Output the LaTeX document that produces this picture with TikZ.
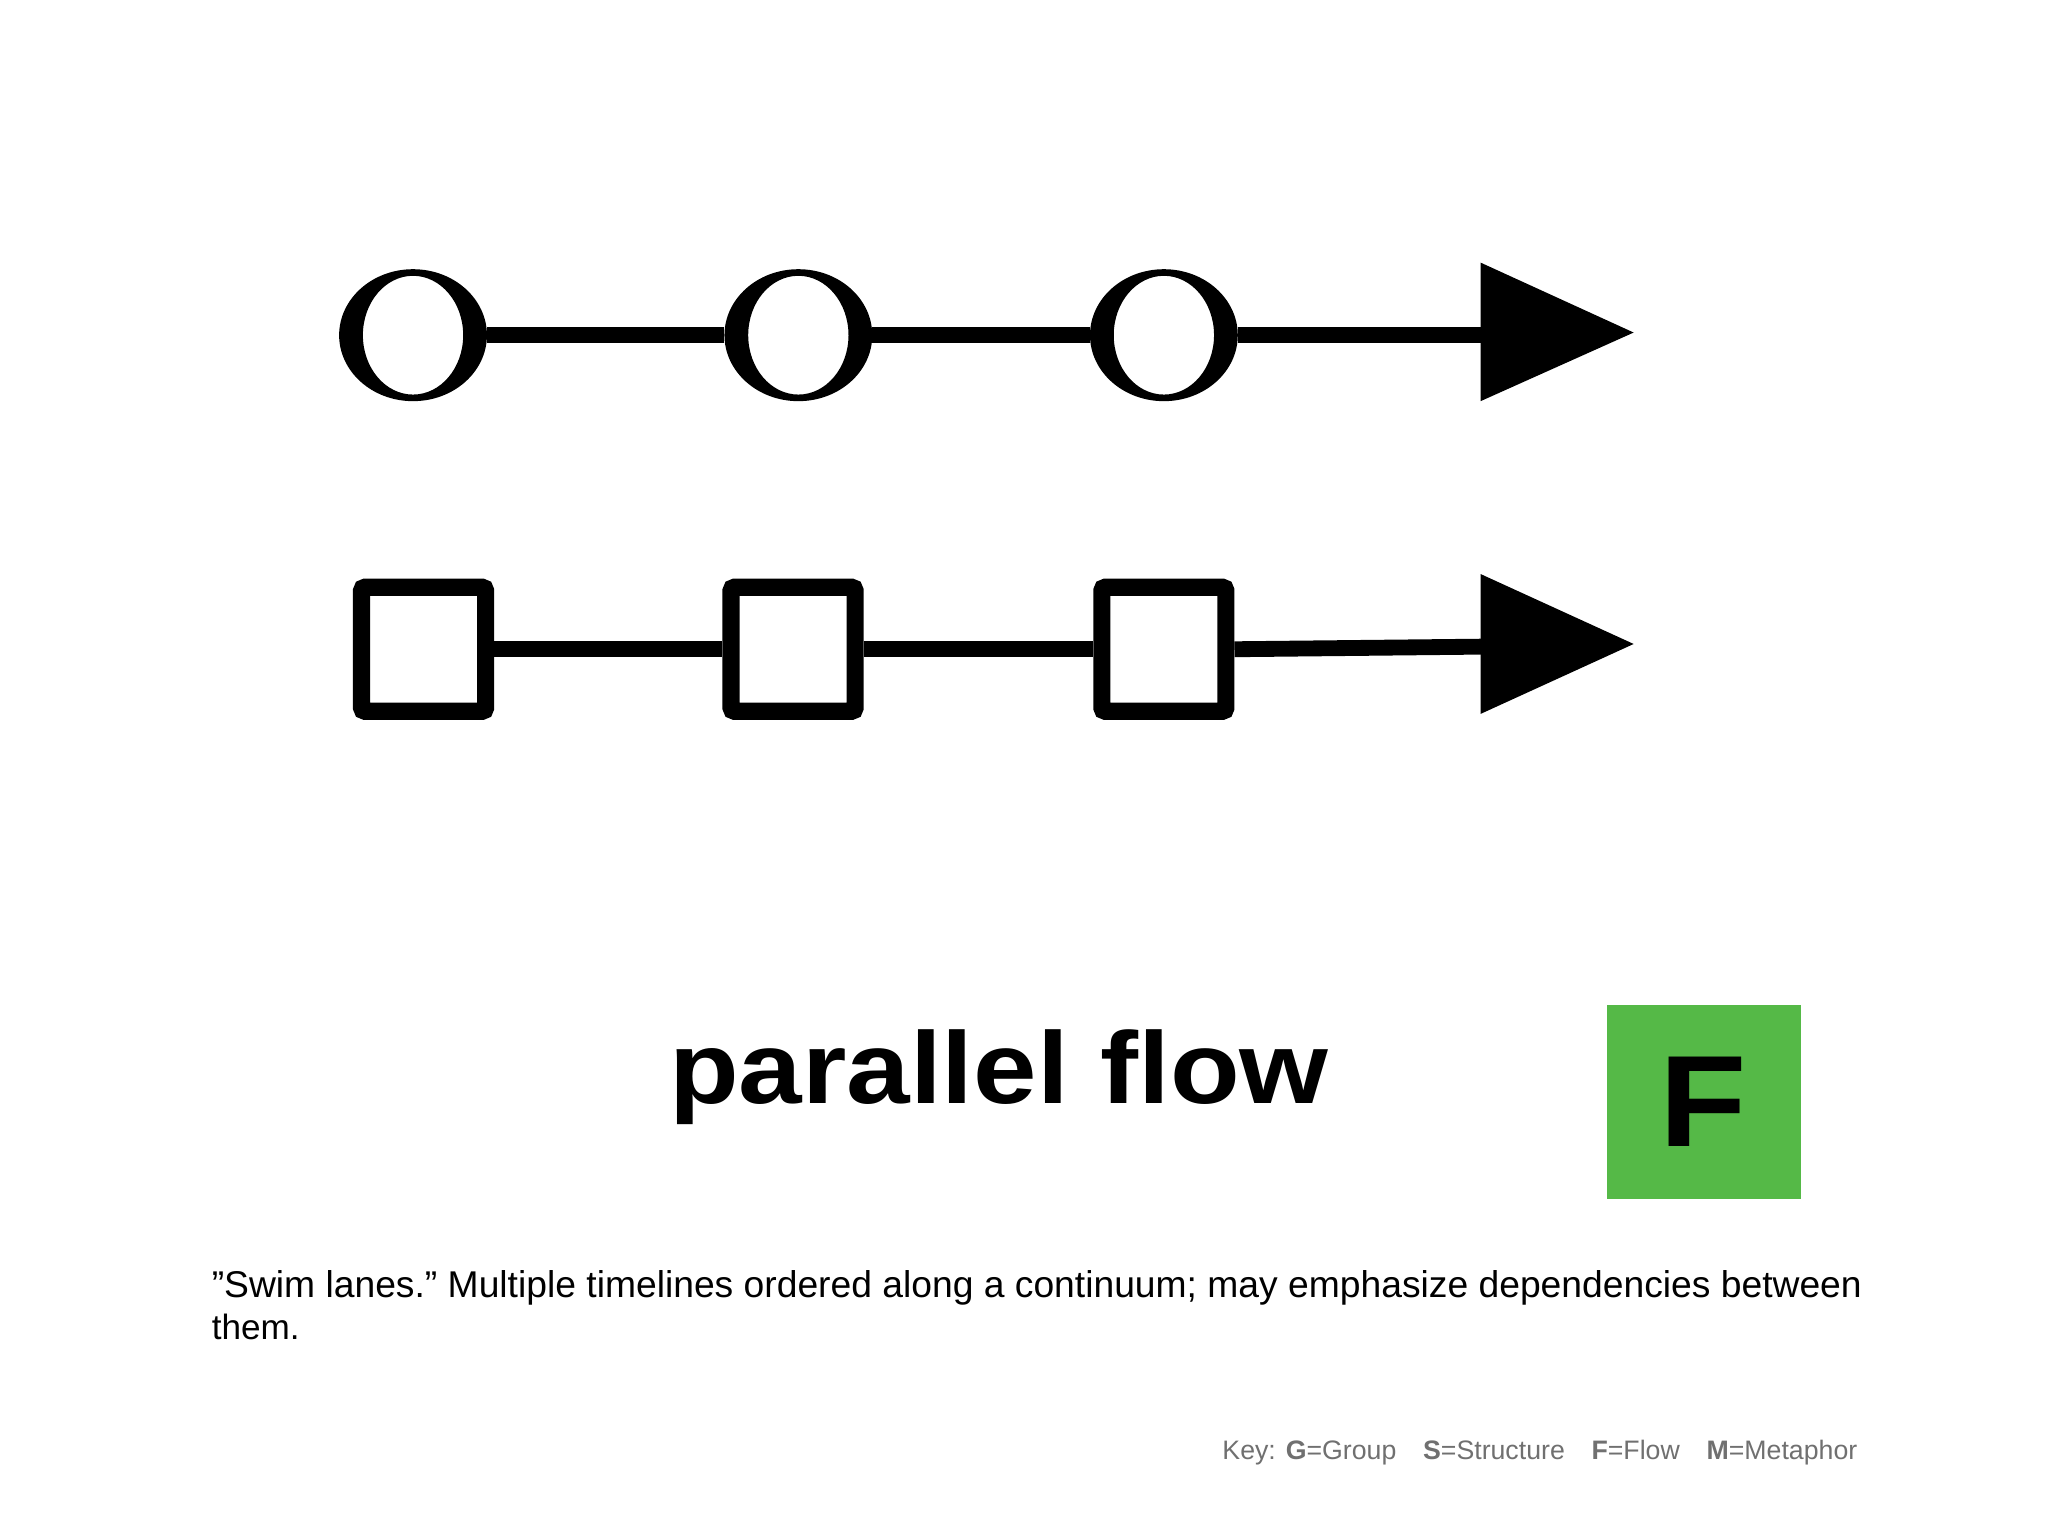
\documentclass[tikz,border=0pt]{standalone}
\usepackage{fontspec}
\setmainfont{Liberation Sans}
\definecolor{fgreen}{HTML}{55B947}
\definecolor{keygray}{HTML}{707070}
\begin{document}
\begin{tikzpicture}[x=0.013196cm,y=-0.013196cm,
  ln/.style={line width=12*0.013196cm},
  sq/.style={draw,line width=13*0.013196cm,minimum size=94*0.013196cm,inner sep=0pt,rounded corners=1pt},
  tip/.style={fill=black}]
\useasboundingbox (0,0) rectangle (1552,1164);
% circles row
\foreach \n/\x in {c1/313,c2/605,c3/882}{
  \coordinate (\n) at (\x,254);
  \fill[even odd rule] (\n) ellipse [x radius=56,y radius=50] (\n) ellipse [x radius=38,y radius=45];
}
\coordinate (a1) at (1125,254);
\draw[ln] ([xshift=56*0.013196cm]c1) -- ([xshift=-56*0.013196cm]c2);
\draw[ln] ([xshift=56*0.013196cm]c2) -- ([xshift=-56*0.013196cm]c3);
\draw[ln] ([xshift=56*0.013196cm]c3) -- (a1);
\fill[tip] (1122,199) -- (1238,252) -- (1122,304) -- cycle;
% squares row
\node[sq] (s1) at (321,492) {};
\node[sq] (s2) at (601,492) {};
\node[sq] (s3) at (882,492) {};
\coordinate (a2) at (1125,490);
\draw[ln] (s1.east) -- (s2.west);
\draw[ln] (s2.east) -- (s3.west);
\draw[ln] (s3.east) -- (a2);
\fill[tip] (1122,435) -- (1238,488) -- (1122,541) -- cycle;
% title
\node (t) at (757,816) {\fontsize{29}{32}\selectfont\bfseries\addfontfeature{FakeStretch=1.12}parallel flow};
\node[fill=fgreen,minimum size=147*0.013196cm,inner sep=0pt] (g) at (1291,835) {\fontsize{37}{40}\selectfont\bfseries\addfontfeature{FakeStretch=1.1}F};
% caption
\node[anchor=north west,align=left,inner sep=0pt] (cap) at (160,962) {\fontsize{10.6}{12.6}\selectfont "Swim lanes." Multiple timelines ordered along a continuum; may emphasize dependencies between\\them.};
\node[anchor=east,inner sep=0pt,text=keygray] (key) at (1408,1101) {\fontsize{7.6}{9}\selectfont Key: \textbf{G}=Group\quad \textbf{S}=Structure\quad \textbf{F}=Flow\quad \textbf{M}=Metaphor};
\end{tikzpicture}
\end{document}
